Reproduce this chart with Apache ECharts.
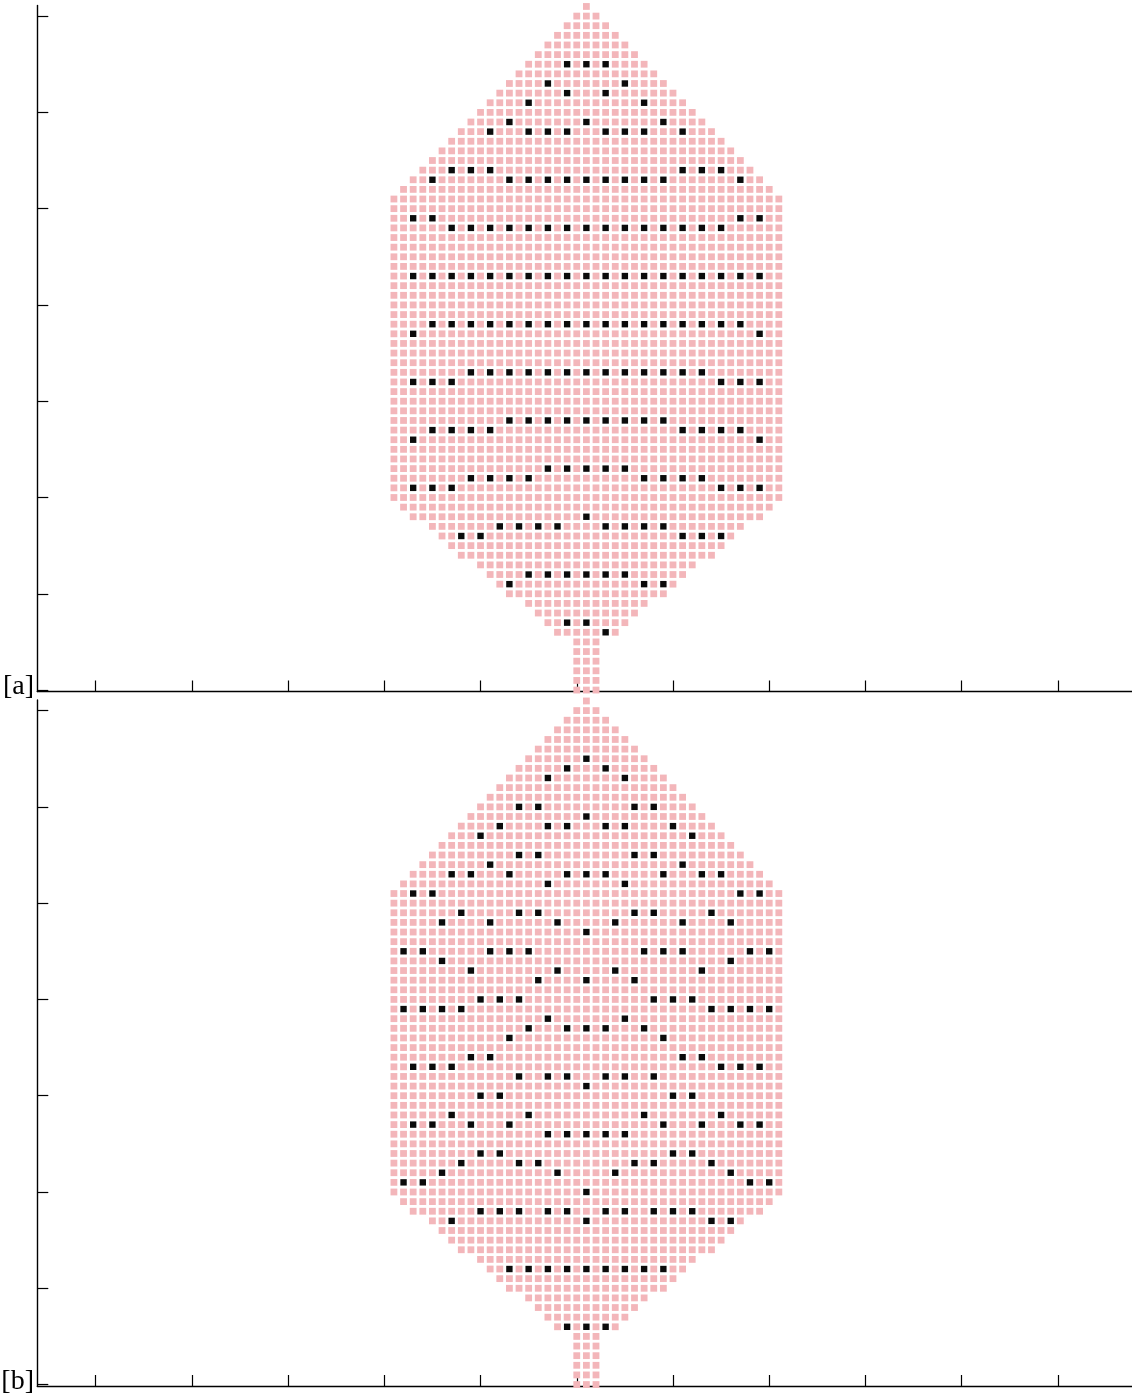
<!DOCTYPE html>
<html>
<head>
<meta charset="utf-8">
<script src="https://cdn.jsdelivr.net/npm/echarts@6/dist/echarts.min.js"></script>
<style>
  html, body { margin: 0; padding: 0; background: #ffffff; }
  #chart { width: 1132px; height: 1397px; }
</style>
</head>
<body>
<div id="chart"></div>
<script>
// Half-width (in columns, either side of the centre column) of each lattice row, row 0 = bottom of the stem.
const rowHalfWidth = [
  1, 1, 1, 1, 1, 1, 3, 4, 5, 6, 8, 9, 10, 11, 13, 14, 15, 16, 18, 19,
  20, 20, 20, 20, 20, 20, 20, 20, 20, 20, 20, 20, 20, 20, 20, 20,
  20, 20, 20, 20, 20, 20, 20, 20, 20, 20, 20, 20, 20, 20, 20, 20,
  19, 18, 17, 16, 15, 14, 13, 12, 11, 10, 9, 8, 7, 6, 5, 4, 3, 2, 1, 0
];

// Axis value of the centre column.
const centreCol = 1;

// Tick positions on the two axes.
const xTicks = [-50, -40, -30, -20, -10, 0, 10, 20, 30, 40, 50];
const yTicks = [0, 10, 20, 30, 40, 50, 60, 70];

// Panel [a]: occupied sites, row index and column offsets from the centre column.
const darkRowsA = [65, 63, 62, 61, 59, 58, 54, 53, 49, 48, 43, 38, 37, 33, 32, 28, 27, 26, 23, 22, 21, 18, 17, 16, 12, 11, 7, 6];
const darkColsA = [
  [-2, 0, 2],
  [-4, 4],
  [-2, 2],
  [-6, 6],
  [-8, 0, 8],
  [-10, -6, -4, -2, 2, 4, 6, 10],
  [-14, -12, -10, 10, 12, 14],
  [-16, -8, -6, -4, -2, 0, 2, 4, 6, 8, 16],
  [-18, -16, 16, 18],
  [-14, -12, -10, -8, -6, -4, -2, 0, 2, 4, 6, 8, 10, 12, 14],
  [-18, -16, -14, -12, -10, -8, -6, -4, -2, 0, 2, 4, 6, 8, 10, 12, 14, 16, 18],
  [-16, -14, -12, -10, -8, -6, -4, -2, 0, 2, 4, 6, 8, 10, 12, 14, 16],
  [-18, 18],
  [-12, -10, -8, -6, -4, -2, 0, 2, 4, 6, 8, 10, 12],
  [-18, -16, -14, 14, 16, 18],
  [-8, -6, -4, -2, 0, 2, 4, 6, 8],
  [-16, -14, -12, -10, 10, 12, 14, 16],
  [-18, 18],
  [-4, -2, 0, 2, 4],
  [-12, -10, -8, -6, 6, 8, 10, 12],
  [-18, -16, -14, 14, 16, 18],
  [0],
  [-9, -7, -5, -3, 2, 4, 6, 8],
  [-13, -11, 10, 12, 14],
  [-6, -4, -2, 0, 2, 4],
  [-8, 6, 8],
  [-2, 0],
  [2]
];

// Panel [b]: occupied sites.
const darkRowsB = [65, 64, 63, 60, 59, 58, 57, 55, 54, 53, 52, 51, 49, 48, 47, 45, 44, 43, 42, 40, 39, 38, 37, 36, 34, 33, 32, 31, 30, 28, 27, 26, 24, 23, 22, 21, 20, 18, 17, 12, 6];
const darkColsB = [
  [0],
  [-2, 2],
  [-4, 4],
  [-7, -5, 5, 7],
  [0],
  [-9, -4, -2, 2, 4, 9],
  [-11, 11],
  [-7, -5, 5, 7],
  [-10, 10],
  [-14, -12, -8, -2, 0, 2, 8, 12, 14],
  [-4, 4],
  [-18, -16, 16, 18],
  [-13, -7, -5, 5, 7, 13],
  [-15, -10, -3, 3, 10, 15],
  [0],
  [-19, -17, -10, -8, -6, 6, 8, 10, 17, 19],
  [-15, 15],
  [-12, -3, 3, 12],
  [-5, 0, 5],
  [-11, -9, -7, 7, 9, 11],
  [-19, -17, -15, -13, 13, 15, 17, 19],
  [-4, 4],
  [-6, -2, 0, 2, 6],
  [-8, 8],
  [-12, -10, 10, 12],
  [-18, -16, -14, 14, 16, 18],
  [-7, -4, -2, 2, 4, 7],
  [0],
  [-11, -9, 9, 11],
  [-14, -6, 6, 14],
  [-18, -16, -12, -8, 8, 12, 16, 18],
  [-4, -2, 0, 2, 4],
  [-11, -9, 9, 11],
  [-13, -7, -5, 5, 7, 13],
  [-15, -3, 3, 15],
  [-19, -17, 17, 19],
  [0],
  [-11, -9, -7, -4, -2, 2, 4, 7, 9, 11],
  [-14, 0, 13, 15],
  [-8, -6, -4, -2, 0, 2, 4, 6, 8],
  [-2, 0, 2]
];

// Split the lattice into empty (pink) and occupied (black) sites.
function buildSites(darkRows, darkCols) {
  const taken = new Set();
  const dark = [];
  darkRows.forEach((r, i) => {
    darkCols[i].forEach(c => {
      taken.add(r + ':' + c);
      dark.push([centreCol + c, r]);
    });
  });
  const empty = [];
  rowHalfWidth.forEach((h, r) => {
    for (let c = -h; c <= h; c++) {
      if (!taken.has(r + ':' + c)) empty.push([centreCol + c, r]);
    }
  });
  return { empty, dark };
}

const sitesA = buildSites(darkRowsA, darkColsA);
const sitesB = buildSites(darkRowsB, darkColsB);

const PINK = '#f3b6ba';
const BLACK = '#0b0b0b';

function xAxisFor(gridIndex) {
  return {
    type: 'value', gridIndex,
    min: -56.06, max: 57.7,
    axisLine: { show: true, onZero: false, lineStyle: { color: '#000', width: 1.4 } },
    axisTick: { show: true, inside: true, length: 11, customValues: xTicks, lineStyle: { color: '#000', width: 1.2 } },
    axisLabel: { show: false },
    splitLine: { show: false }
  };
}
function yAxisFor(gridIndex) {
  return {
    type: 'value', gridIndex,
    min: -0.15, max: 71.1,
    axisLine: { show: true, onZero: false, lineStyle: { color: '#000', width: 1.4 } },
    axisTick: { show: true, inside: true, length: 11, customValues: yTicks, lineStyle: { color: '#000', width: 1.2 } },
    axisLabel: { show: false },
    splitLine: { show: false }
  };
}
function siteSeries(gridIndex, data, color, size, z) {
  return {
    type: 'scatter', xAxisIndex: gridIndex, yAxisIndex: gridIndex,
    data, symbol: 'rect', symbolSize: size,
    itemStyle: { color, opacity: 1 },
    silent: true, animation: false, z
  };
}

const chart = echarts.init(document.getElementById('chart'), null, { renderer: 'canvas' });
chart.setOption({
  backgroundColor: '#ffffff',
  animation: false,
  grid: [
    { left: 37.3, top: 5.5, width: 1094.7, height: 686 },
    { left: 37.3, top: 700, width: 1094.7, height: 686 }
  ],
  xAxis: [xAxisFor(0), xAxisFor(1)],
  yAxis: [yAxisFor(0), yAxisFor(1)],
  series: [
    siteSeries(0, sitesA.empty, PINK, 6.8, 2),
    siteSeries(0, sitesA.dark, BLACK, 6.4, 3),
    siteSeries(1, sitesB.empty, PINK, 6.8, 2),
    siteSeries(1, sitesB.dark, BLACK, 6.4, 3)
  ],
  graphic: [
    { type: 'text', x: 34, y: 701, style: { text: '[a]', font: '28px "Liberation Serif", serif', fill: '#000', textAlign: 'right', textVerticalAlign: 'bottom' } },
    { type: 'text', x: 34, y: 1396, style: { text: '[b]', font: '28px "Liberation Serif", serif', fill: '#000', textAlign: 'right', textVerticalAlign: 'bottom' } }
  ]
});
</script>
</body>
</html>
